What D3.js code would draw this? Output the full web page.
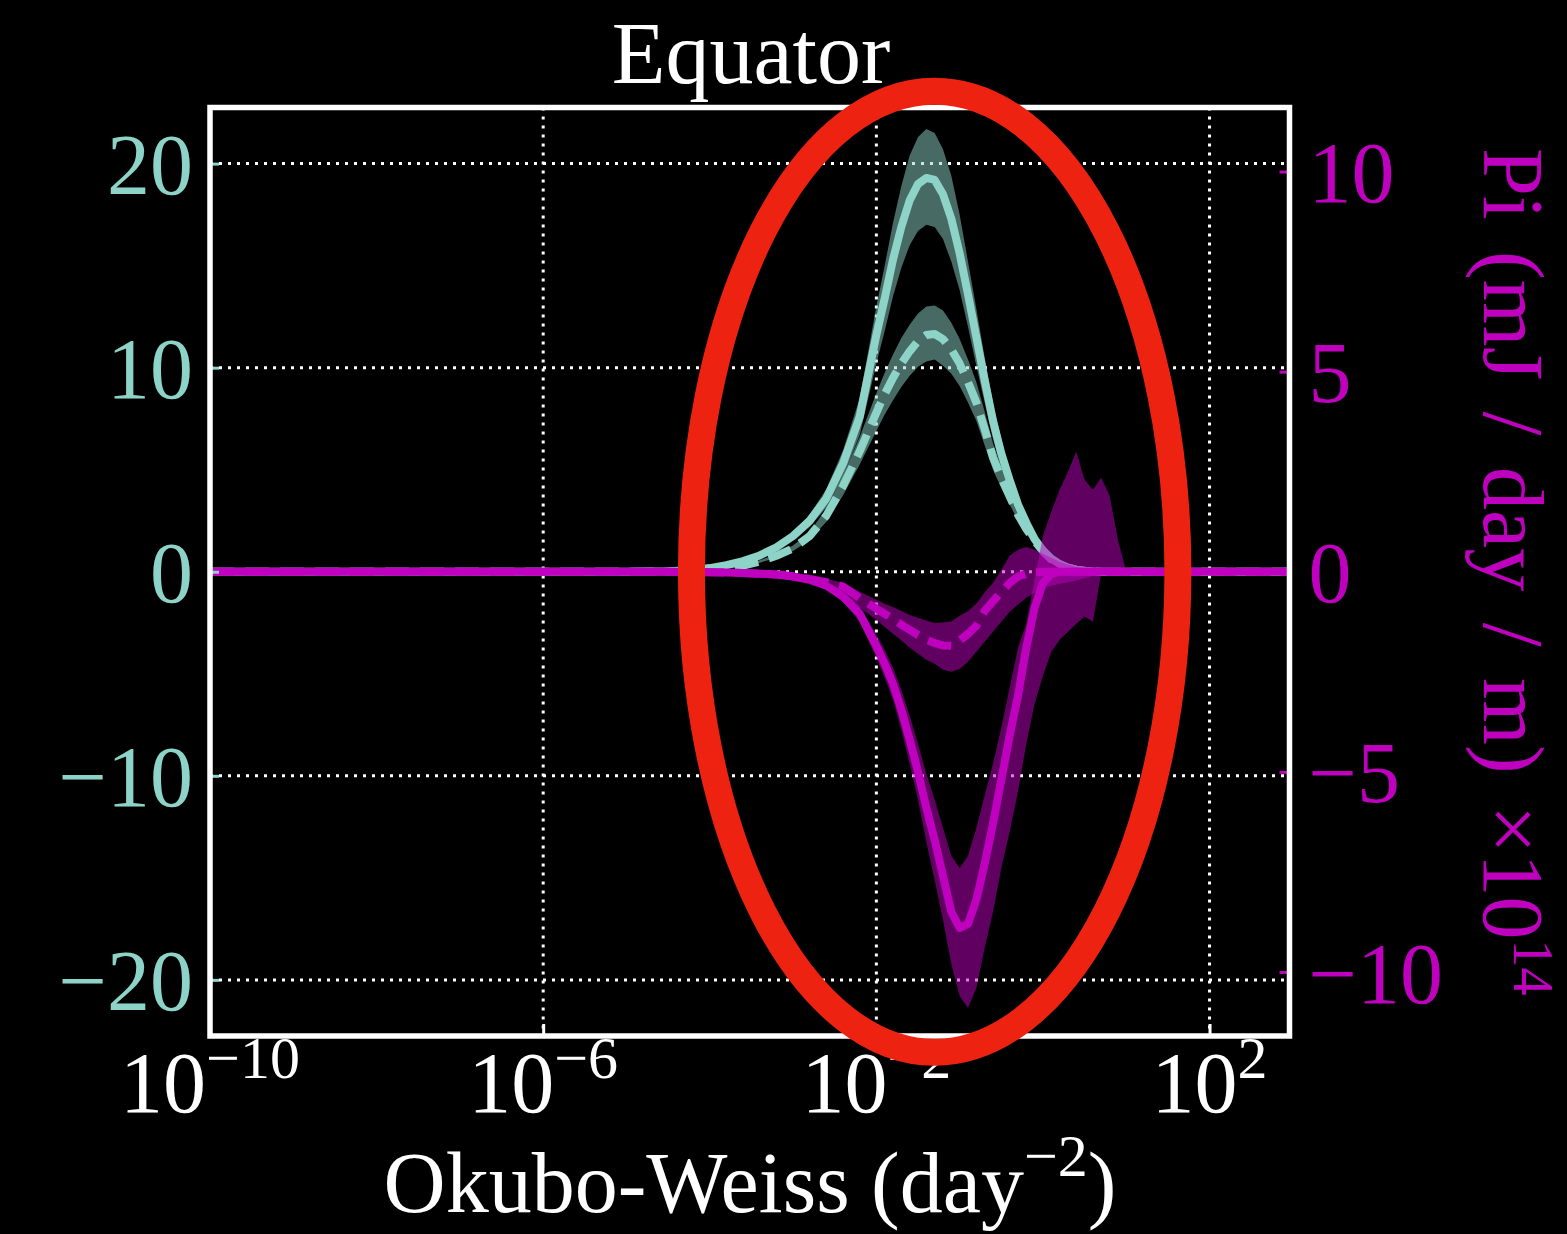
<!DOCTYPE html>
<html>
<head>
<meta charset="utf-8">
<script src="https://cdn.jsdelivr.net/npm/d3@7"></script>
<style>
  html, body { margin: 0; padding: 0; background: #000; }
  svg { display: block; }
</style>
</head>
<body>
<script>
// Okubo-Weiss bins, stored as base-10 exponents (day^-2)
const owExp = [-10, -9, -8, -7, -6, -5, -4.5, -4.2,
  -4.0, -3.8, -3.6, -3.4, -3.2, -3.0, -2.8, -2.6, -2.4, -2.2, -2.0,
  -1.9, -1.8, -1.7, -1.6, -1.5, -1.4, -1.3, -1.2, -1.1, -1.0,
  -0.9, -0.8, -0.7, -0.6, -0.5, -0.4, -0.3, -0.2, -0.1, 0.0,
  0.1, 0.2, 0.3, 0.4, 0.5, 0.6, 0.7, 0.8, 0.9, 1.0,
  1.2, 1.5, 2.0, 2.5, 2.96];

// Left-axis quantity: solid run (mean, lower, upper)
const leftSolid = [0, 0, 0, 0, 0, 0, 0.02, 0.08,
  0.18, 0.32, 0.52, 0.8, 1.2, 1.75, 2.5, 3.6, 5.3, 7.6, 11.6,
  13.4, 15.3, 16.9, 18.2, 19.0, 19.3, 19.2, 18.5, 17.3, 15.6,
  13.6, 11.5, 9.4, 7.4, 5.8, 4.5, 3.3, 2.4, 1.6, 1.05,
  0.65, 0.38, 0.2, 0.1, 0.05, 0.02, 0, 0, 0, 0,
  0, 0, 0, 0, 0];
const leftSolidLo = [0, 0, 0, 0, 0, 0, 0.015, 0.07,
  0.16, 0.28, 0.46, 0.7, 1.05, 1.55, 2.2, 3.15, 4.65, 6.7, 10.2,
  11.8, 13.5, 14.9, 16.0, 16.7, 17.0, 16.9, 16.3, 15.2, 13.8,
  12.0, 10.1, 8.3, 6.5, 5.1, 4.0, 2.9, 2.1, 1.4, 0.92,
  0.57, 0.33, 0.17, 0.09, 0.04, 0.015, 0, 0, 0, 0,
  0, 0, 0, 0, 0];
const leftSolidHi = [0, 0, 0, 0, 0, 0, 0.025, 0.09,
  0.2, 0.36, 0.58, 0.9, 1.35, 1.95, 2.8, 4.05, 5.95, 8.5, 13.0,
  15.0, 17.1, 18.9, 20.4, 21.3, 21.7, 21.5, 20.7, 19.4, 17.5,
  15.2, 12.9, 10.5, 8.3, 6.5, 5.0, 3.7, 2.7, 1.8, 1.18,
  0.73, 0.43, 0.22, 0.11, 0.06, 0.02, 0, 0, 0, 0,
  0, 0, 0, 0, 0];

// Left-axis quantity: dashed run (mean, lower, upper)
const leftDashed = [0, 0, 0, 0, 0, 0, 0.01, 0.04,
  0.09, 0.17, 0.3, 0.5, 0.78, 1.15, 1.75, 2.75, 4.2, 5.9, 7.8,
  8.7, 9.5, 10.2, 10.8, 11.3, 11.6, 11.65, 11.4, 10.9, 10.2,
  9.3, 8.3, 7.0, 5.6, 4.6, 3.7, 2.8, 2.1, 1.5, 1.0,
  0.6, 0.35, 0.2, 0.1, 0.05, 0.02, 0, 0, 0, 0,
  0, 0, 0, 0, 0];
const leftDashedLo = [0, 0, 0, 0, 0, 0, 0.01, 0.035,
  0.08, 0.15, 0.27, 0.44, 0.69, 1.02, 1.55, 2.45, 3.75, 5.25, 6.9,
  7.7, 8.4, 9.05, 9.6, 10.05, 10.3, 10.4, 10.1, 9.7, 9.1,
  8.3, 7.4, 6.2, 5.0, 4.1, 3.3, 2.5, 1.85, 1.33, 0.89,
  0.53, 0.31, 0.18, 0.09, 0.04, 0.02, 0, 0, 0, 0,
  0, 0, 0, 0, 0];
const leftDashedHi = [0, 0, 0, 0, 0, 0, 0.012, 0.045,
  0.1, 0.19, 0.34, 0.56, 0.87, 1.29, 1.95, 3.1, 4.7, 6.6, 8.75,
  9.75, 10.65, 11.45, 12.1, 12.65, 13.0, 13.05, 12.8, 12.2, 11.4,
  10.4, 9.3, 7.85, 6.3, 5.15, 4.15, 3.15, 2.35, 1.68, 1.12,
  0.67, 0.39, 0.22, 0.11, 0.06, 0.02, 0, 0, 0, 0,
  0, 0, 0, 0, 0];

// Pi (mJ / day / m, x1e14): solid run (mean, lower, upper)
const piSolid = [0, 0, 0, 0, 0, 0, -0.003, -0.006,
  -0.01, -0.02, -0.03, -0.05, -0.07, -0.12, -0.2, -0.35, -0.62, -1.05, -1.85,
  -2.3, -2.8, -3.45, -4.2, -5.0, -5.9, -6.7, -7.6, -8.5, -8.9,
  -8.8, -8.2, -7.3, -6.3, -5.2, -4.1, -3.1, -1.9, -0.9, -0.28,
  -0.05, 0, 0, 0, 0, 0, 0, 0, 0, 0,
  0, 0, 0, 0, 0];
const piSolidLo = [0, 0, 0, 0, 0, 0, -0.004, -0.008,
  -0.012, -0.025, -0.036, -0.06, -0.085, -0.15, -0.25, -0.43, -0.75, -1.25, -2.15,
  -2.65, -3.2, -3.95, -4.8, -5.7, -6.75, -7.7, -8.7, -9.8, -10.6,
  -10.9, -10.4, -9.4, -8.5, -7.4, -6.5, -5.5, -4.3, -3.3, -2.6,
  -2.0, -1.7, -1.5, -1.3, -1.12, -1.25, -0.02, -0.02, 0, 0,
  0, 0, 0, 0, 0];
const piSolidHi = [0, 0, 0, 0, 0, 0, -0.002, -0.004,
  -0.008, -0.015, -0.024, -0.04, -0.055, -0.1, -0.16, -0.28, -0.5, -0.87, -1.57,
  -1.95, -2.4, -2.95, -3.6, -4.3, -5.05, -5.7, -6.4, -7.1, -7.4,
  -7.1, -6.4, -5.6, -4.8, -3.9, -2.9, -1.9, -1.3, -0.2, 0.9,
  1.5, 2.05, 2.5, 3.0, 2.3, 2.05, 2.35, 1.9, 0.8, 0,
  0, 0, 0, 0, 0];

// Pi: dashed run (mean, lower, upper)
const piDashed = [0, 0, 0, 0, 0, 0, -0.002, -0.005,
  -0.01, -0.02, -0.03, -0.05, -0.07, -0.11, -0.18, -0.26, -0.37, -0.66, -0.92,
  -1.05, -1.18, -1.32, -1.45, -1.58, -1.7, -1.78, -1.84, -1.85, -1.72,
  -1.55, -1.35, -0.98, -0.74, -0.5, -0.28, -0.12, -0.05, -0.02, 0,
  0, 0, 0, 0, 0, 0, 0, 0, 0, 0,
  0, 0, 0, 0, 0];
const piDashedLo = [0, 0, 0, 0, 0, 0, -0.003, -0.006,
  -0.012, -0.025, -0.04, -0.065, -0.09, -0.15, -0.25, -0.4, -0.55, -0.9, -1.2,
  -1.38, -1.55, -1.72, -1.9, -2.05, -2.2, -2.3, -2.45, -2.5, -2.43,
  -2.25, -2.0, -1.75, -1.5, -1.25, -1.0, -0.82, -0.65, -0.52, -0.4,
  -0.35, -0.3, -0.26, -0.22, -0.16, -0.1, -0.05, 0, 0, 0,
  0, 0, 0, 0, 0];
const piDashedHi = [0, 0, 0, 0, 0, 0, -0.001, -0.004,
  -0.008, -0.015, -0.02, -0.035, -0.05, -0.08, -0.12, -0.18, -0.27, -0.5, -0.7,
  -0.8, -0.88, -0.98, -1.08, -1.15, -1.22, -1.28, -1.27, -1.24, -1.1,
  -0.98, -0.8, -0.52, -0.28, 0.05, 0.4, 0.55, 0.62, 0.55, 0.45,
  0.35, 0.25, 0.18, 0.12, 0.08, 0.05, 0.02, 0, 0, 0,
  0, 0, 0, 0, 0];

// Axis ticks
const xTickExp = [-10, -6, -2, 2];
const leftTicks = [-20, -10, 0, 10, 20];
const rightTicks = [-10, -5, 0, 5, 10];

// Highlight ring around the active range, in data units
const ringCenterExp = -1.3;     // log10 of centre Okubo-Weiss value
const ringHalfDecades = 2.92;   // horizontal half-width, in decades
const ringCenterValue = 0;      // left-axis value at centre
const ringHalfValue = 23.55;    // vertical half-height, left-axis units

// ---------------------------------------------------------------
const W = 1567, H = 1234;
const box = { left: 210, right: 1289.5, top: 107.5, bottom: 1036 };
const TEAL = "#8dd3c7", MAGENTA = "#bf00bf", RED = "#ee2211";
const FONT = "'Liberation Serif', 'Times New Roman', serif";
const FS = 86, SUP = 60;

const svg = d3.select("body").append("svg")
  .attr("width", W).attr("height", H)
  .style("background", "#000");

const x = d3.scaleLog().domain([1e-10, Math.pow(10, 2.96)]).range([box.left, box.right]);
const yL = d3.scaleLinear().domain([-22.75, 22.75]).range([box.bottom, box.top]);
const yR = d3.scaleLinear().domain([-11.6, 11.6]).range([box.bottom, box.top]);

const idx = d3.range(owExp.length);
const xv = i => x(Math.pow(10, owExp[i]));

svg.append("defs").append("clipPath").attr("id", "plotClip")
  .append("rect")
  .attr("x", box.left).attr("y", box.top)
  .attr("width", box.right - box.left).attr("height", box.bottom - box.top);

// Grid (dotted, from the left axis and the x decades)
const grid = svg.append("g")
  .attr("stroke", "#fff").attr("stroke-width", 3).attr("stroke-dasharray", "3,6");
grid.selectAll("line.h").data(leftTicks).join("line")
  .attr("x1", box.left).attr("x2", box.right)
  .attr("y1", d => yL(d)).attr("y2", d => yL(d));
grid.selectAll("line.v").data(xTickExp.slice(1)).join("line")
  .attr("x1", d => x(Math.pow(10, d))).attr("x2", d => x(Math.pow(10, d)))
  .attr("y1", box.top).attr("y2", box.bottom);

const plot = svg.append("g").attr("clip-path", "url(#plotClip)");

function band(y, lo, hi, color) {
  plot.append("path")
    .datum(idx)
    .attr("d", d3.area().x(xv).y0(i => y(lo[i])).y1(i => y(hi[i])))
    .attr("fill", color).attr("fill-opacity", 0.5).attr("stroke", "none");
}
function curve(y, vals, color, dashed) {
  plot.append("path")
    .datum(idx)
    .attr("d", d3.line().x(xv).y(i => y(vals[i])))
    .attr("fill", "none").attr("stroke", color).attr("stroke-width", 8)
    .attr("stroke-linejoin", "round")
    .attr("stroke-linecap", dashed ? "butt" : "square")
    .attr("stroke-dasharray", dashed ? "24,11" : null);
}

// Left-axis quantity
band(yL, leftSolidLo, leftSolidHi, TEAL);
curve(yL, leftSolid, TEAL, false);
band(yL, leftDashedLo, leftDashedHi, TEAL);
curve(yL, leftDashed, TEAL, true);

// Pi on the right axis
band(yR, piSolidLo, piSolidHi, MAGENTA);
band(yR, piDashedLo, piDashedHi, MAGENTA);
curve(yR, piSolid, MAGENTA, false);
curve(yR, piDashed, MAGENTA, true);

// Left axis
const axL = svg.append("g").attr("transform", `translate(${box.left},0)`)
  .call(d3.axisLeft(yL).tickValues(leftTicks).tickSizeInner(-9).tickSizeOuter(0).tickPadding(17));
axL.select(".domain").remove();
axL.selectAll(".tick line").attr("stroke", TEAL).attr("stroke-width", 3);
axL.selectAll(".tick text").attr("fill", TEAL).attr("font-family", FONT)
  .attr("font-size", FS).attr("dy", "0.35em");

// Right axis
const axR = svg.append("g").attr("transform", `translate(${box.right},0)`)
  .call(d3.axisRight(yR).tickValues(rightTicks).tickSizeInner(-10).tickSizeOuter(0).tickPadding(19));
axR.select(".domain").remove();
axR.selectAll(".tick line").attr("stroke", MAGENTA).attr("stroke-width", 3);
axR.selectAll(".tick text").attr("fill", MAGENTA).attr("font-family", FONT)
  .attr("font-size", FS).attr("dy", "0.35em");

// Bottom axis: inward ticks and power-of-ten labels
const axB = svg.append("g").attr("transform", `translate(0,${box.bottom})`)
  .call(d3.axisBottom(x).tickValues(xTickExp.map(e => Math.pow(10, e)))
    .tickSizeInner(-12).tickSizeOuter(0).tickFormat(""));
axB.select(".domain").remove();
axB.selectAll(".tick line").attr("stroke", "#fff").attr("stroke-width", 3);

const fmtExp = e => (e < 0 ? "\u2212" : "") + Math.abs(e);
const xLab = svg.append("g").attr("font-family", FONT).attr("fill", "#fff");
xTickExp.forEach(e => {
  const t = xLab.append("text")
    .attr("x", x(Math.pow(10, e))).attr("y", 1112)
    .attr("text-anchor", "middle").attr("font-size", FS);
  t.append("tspan").text("10");
  t.append("tspan").attr("font-size", SUP).attr("dy", -34).text(fmtExp(e));
});

// Frame
svg.append("rect")
  .attr("x", box.left).attr("y", box.top)
  .attr("width", box.right - box.left).attr("height", box.bottom - box.top)
  .attr("fill", "none").attr("stroke", "#fff").attr("stroke-width", 5.5);

// Title and axis labels
svg.append("text").attr("x", 751).attr("y", 83)
  .attr("text-anchor", "middle").attr("font-family", FONT).attr("font-size", 88)
  .attr("fill", "#fff").text("Equator");

const xt = svg.append("text").attr("x", 750).attr("y", 1212)
  .attr("text-anchor", "middle").attr("font-family", FONT).attr("font-size", FS)
  .attr("fill", "#fff");
xt.append("tspan").text("Okubo-Weiss (day");
xt.append("tspan").attr("font-size", SUP).attr("dy", -36).text("\u22122");
xt.append("tspan").attr("dy", 36).text(")");

const rt = svg.append("text")
  .attr("transform", `translate(1484,${(box.top + box.bottom) / 2}) rotate(90)`)
  .attr("text-anchor", "middle").attr("font-family", FONT).attr("font-size", FS)
  .attr("word-spacing", 10)
  .attr("fill", MAGENTA);
rt.append("tspan").text("Pi (mJ / day / m) \u00d710");
rt.append("tspan").attr("font-size", 56).attr("dy", -30).text("14");

// Highlight ring
const ringCx = x(Math.pow(10, ringCenterExp));
const ringRx = x(Math.pow(10, ringCenterExp + ringHalfDecades)) - ringCx;
const ringCy = yL(ringCenterValue);
const ringRy = yL(ringCenterValue) - yL(ringCenterValue + ringHalfValue);
svg.append("ellipse")
  .attr("cx", ringCx).attr("cy", ringCy).attr("rx", ringRx).attr("ry", ringRy)
  .attr("fill", "none").attr("stroke", RED).attr("stroke-width", 27);
</script>
</body>
</html>
